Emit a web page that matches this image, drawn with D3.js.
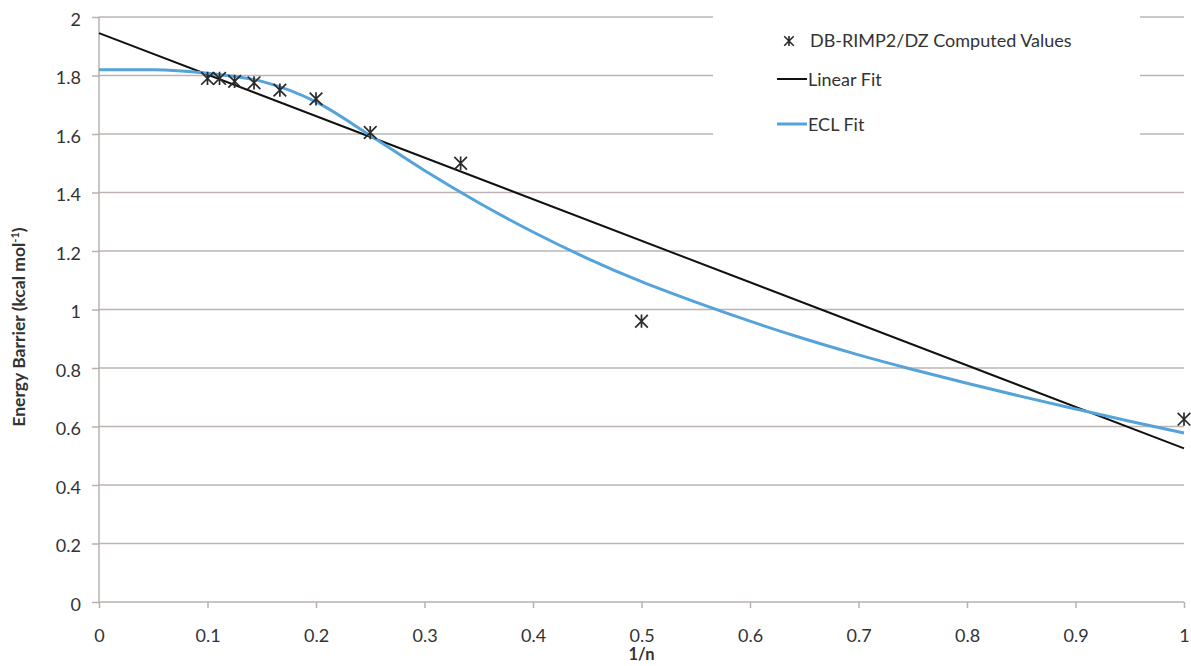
<!DOCTYPE html>
<html>
<head>
<meta charset="utf-8">
<script src="https://cdn.jsdelivr.net/npm/d3@7"></script>
<style>
  body { margin: 0; background: #fff; }
  text { font-family: Lato, "Open Sans", sans-serif; fill: #333; }
  .axis path, .axis line { stroke: #b9b0ae; stroke-width: 1.5; }
  .axis text { font-size: 18px; fill: #333; }
</style>
</head>
<body>
<div id="chart"></div>
<script>
// computed points (x = 1/n)
var pointX = [0.1, 0.1111, 0.125, 0.1429, 0.1667, 0.2, 0.25, 0.3333, 0.5, 1.0]
var pointY = [1.79, 1.79, 1.78, 1.775, 1.75, 1.72, 1.605, 1.50, 0.96, 0.625]

// linear fit end points
var linearX = [0, 1]
var linearY = [1.945, 0.525]

// ECL fit curve
var eclX = [0, 0.05, 0.1, 0.15, 0.2, 0.25, 0.3, 0.35, 0.4, 0.45, 0.5, 0.55, 0.6, 0.65, 0.7, 0.75, 0.8, 0.85, 0.9, 0.95, 1.0]
var eclY = [1.82, 1.82, 1.808, 1.78, 1.71, 1.595, 1.475, 1.365, 1.265, 1.175, 1.095, 1.025, 0.96, 0.9, 0.845, 0.795, 0.748, 0.703, 0.66, 0.618, 0.578]

var xTicks = [0, 0.1, 0.2, 0.3, 0.4, 0.5, 0.6, 0.7, 0.8, 0.9, 1]
var yTicks = [0, 0.2, 0.4, 0.6, 0.8, 1, 1.2, 1.4, 1.6, 1.8, 2]

var legendLabels = ["DB-RIMP2/DZ Computed Values", "Linear Fit", "ECL Fit"]

;(function() {
  var widthSvg = 1191
  var heightSvg = 666
  var margin = { top: 17, left: 99, right: 7, bottom: 64 }
  var widthScale = widthSvg - margin.left - margin.right
  var heightScale = heightSvg - margin.top - margin.bottom

  var svg = d3.select("#chart").append("svg")
    .attr("width", widthSvg)
    .attr("height", heightSvg)

  var mainG = svg.append("g")
    .attr("transform", "translate(" + margin.left + "," + margin.top + ")")

  var x = d3.scaleLinear().domain([0, 1]).range([0, widthScale])
  var y = d3.scaleLinear().domain([0, 2]).range([heightScale, 0])

  // gridlines
  mainG.append("g")
    .attr("class", "grid")
    .selectAll("line")
    .data(yTicks.slice(1))
    .enter().append("line")
    .attr("x1", 0)
    .attr("x2", widthScale)
    .attr("y1", function(d) { return y(d) })
    .attr("y2", function(d) { return y(d) })
    .attr("stroke", "#bdb4b2")
    .attr("stroke-width", 1.5)

  // axes
  var xAxis = d3.axisBottom(x)
    .tickValues(xTicks)
    .tickSize(6)
    .tickPadding(21)
    .tickFormat(d3.format("~g"))
  var xG = mainG.append("g")
    .attr("class", "axis x-axis")
    .attr("transform", "translate(0," + heightScale + ")")
    .call(xAxis)
  xG.select(".domain").attr("d", "M0,0H" + widthScale)

  var yAxis = d3.axisLeft(y)
    .tickValues(yTicks)
    .tickSize(7)
    .tickPadding(11)
    .tickFormat(d3.format("~g"))
  var yG = mainG.append("g")
    .attr("class", "axis y-axis")
    .call(yAxis)
  yG.select(".domain").attr("d", "M0," + heightScale + "V0")
  yG.selectAll(".tick text").attr("dy", "0.45em")

  // legend background hides the grid behind it
  mainG.append("rect")
    .attr("x", 713 - margin.left)
    .attr("y", -margin.top)
    .attr("width", 427)
    .attr("height", 160)
    .attr("fill", "#fff")

  // linear fit
  var linearData = linearX.map(function(d, i) { return [d, linearY[i]] })
  mainG.append("path")
    .datum(linearData)
    .attr("fill", "none")
    .attr("stroke", "#111")
    .attr("stroke-width", 2)
    .attr("d", d3.line().x(function(d) { return x(d[0]) }).y(function(d) { return y(d[1]) }))

  // ECL fit
  var eclData = eclX.map(function(d, i) { return [d, eclY[i]] })
  mainG.append("path")
    .datum(eclData)
    .attr("fill", "none")
    .attr("stroke", "#55a3db")
    .attr("stroke-width", 3)
    .attr("d", d3.line().curve(d3.curveMonotoneX).x(function(d) { return x(d[0]) }).y(function(d) { return y(d[1]) }))

  // star marker: X plus vertical bar
  var starType = {
    draw: function(context, size) {
      var r = Math.sqrt(size) / 2
      context.moveTo(-r, -r); context.lineTo(r, r)
      context.moveTo(r, -r); context.lineTo(-r, r)
      context.moveTo(0, -r * 1.05); context.lineTo(0, r * 1.05)
    }
  }
  var star = d3.symbol().type(starType).size(160)

  var pointData = pointX.map(function(d, i) { return [d, pointY[i]] })
  mainG.selectAll(".point")
    .data(pointData)
    .enter().append("path")
    .attr("class", "point")
    .attr("d", star)
    .attr("transform", function(d) { return "translate(" + x(d[0]) + "," + y(d[1]) + ")" })
    .attr("fill", "none")
    .attr("stroke", "#2a2a2a")
    .attr("stroke-width", 1.7)

  // legend
  var legend = svg.append("g").attr("class", "legend")
  var legendY = [41, 80, 125]

  legend.append("path")
    .attr("d", d3.symbol().type(starType).size(90))
    .attr("transform", "translate(789," + legendY[0] + ")")
    .attr("fill", "none")
    .attr("stroke", "#2a2a2a")
    .attr("stroke-width", 1.6)

  var legendColors = ["#111", "#55a3db"]
  legend.selectAll(".legend-line")
    .data(legendColors)
    .enter().append("line")
    .attr("x1", 777)
    .attr("x2", 807)
    .attr("y1", function(d, i) { return legendY[i + 1] - 1 })
    .attr("y2", function(d, i) { return legendY[i + 1] - 1 })
    .attr("stroke", function(d) { return d })
    .attr("stroke-width", function(d, i) { return i === 0 ? 2 : 3 })

  legend.selectAll(".legend-text")
    .data(legendLabels)
    .enter().append("text")
    .attr("x", function(d, i) { return i === 0 ? 810 : 808 })
    .attr("y", function(d, i) { return legendY[i] })
    .attr("dy", "0.35em")
    .style("font-size", "18px")
    .text(function(d) { return d })

  // axis titles
  var yTitle = svg.append("text")
    .attr("transform", "translate(25,327) rotate(-90)")
    .attr("text-anchor", "middle")
    .style("font-size", "17.5px")
    .style("font-weight", "bold")
  yTitle.append("tspan").text("Energy Barrier (kcal mol")
  yTitle.append("tspan")
    .attr("baseline-shift", "super")
    .style("font-size", "11px")
    .text("-1")
  yTitle.append("tspan").text(")")

  svg.append("text")
    .attr("x", margin.left + x(0.5))
    .attr("y", 660)
    .attr("text-anchor", "middle")
    .style("font-size", "16.5px")
    .style("font-weight", "bold")
    .text("1/n")
})();
</script>
</body>
</html>
